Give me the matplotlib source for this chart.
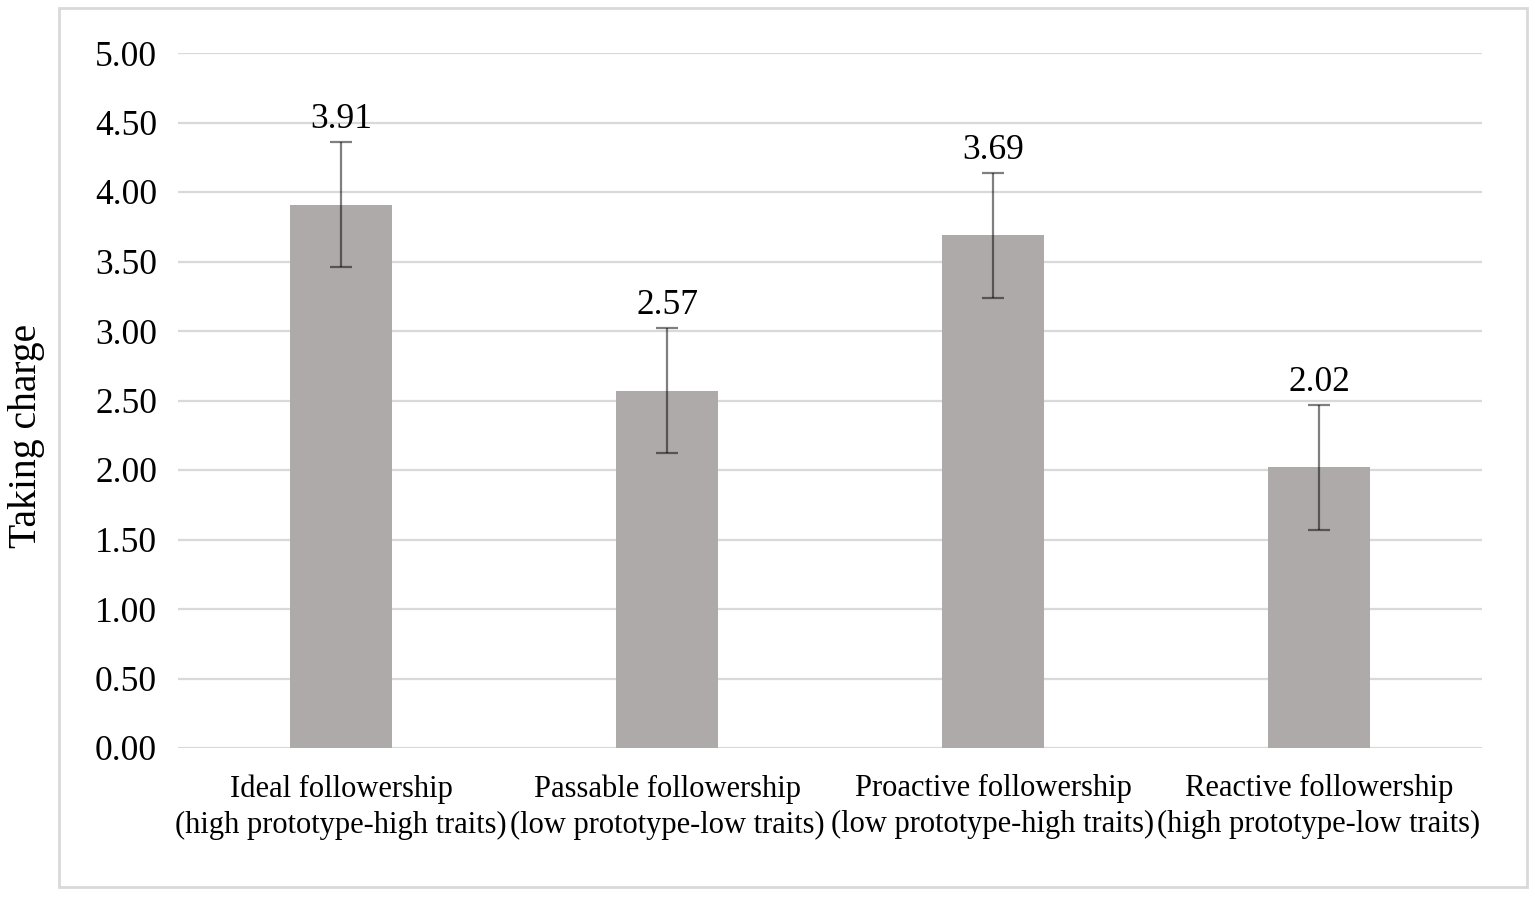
import numpy as np
import matplotlib
matplotlib.use('Agg')
import matplotlib.pyplot as plt
from matplotlib.patches import Rectangle

# THE DATA
categories = ['Ideal followership\n(high prototype-high traits)',
              'Passable followership\n(low prototype-low traits)',
              'Proactive followership\n(low prototype-high traits)',
              'Reactive followership\n(high prototype-low traits)']
means = [3.91, 2.57, 3.69, 2.02]
errors = [0.45, 0.45, 0.45, 0.45]
yticks = [0.0, 0.5, 1.0, 1.5, 2.0, 2.5, 3.0, 3.5, 4.0, 4.5, 5.0]

# THE CHART
plt.rcParams['font.family'] = ['Liberation Serif', 'DejaVu Serif']

fig = plt.figure(figsize=(15.35, 8.98), dpi=100, facecolor='w')
ax = fig.add_axes([178/1535, 150/898, 1304/1535, 695/898])

x = np.arange(len(categories))
ax.bar(x, means, width=0.31, color='#ADAAA9', zorder=2)
ax.errorbar(x, means, yerr=errors, fmt='none', ecolor=(0, 0, 0, 0.5),
            elinewidth=1.6, capsize=8, capthick=1.6, zorder=3)

# value labels above the error bars
for xi, m, e in zip(x, means, errors):
    ax.text(xi, m + e + 0.1, f'{m:.2f}', ha='center', va='baseline',
            fontsize=25.5, color='k')

ax.set_xlim(-0.5, len(categories) - 0.5)
ax.set_ylim(0, 5)
ax.set_yticks(yticks)
ax.set_yticklabels([f'{t:.2f}' for t in yticks], fontsize=25.5)
ax.set_xticks(x)
ax.set_xticklabels(categories, fontsize=22, linespacing=1.3)
ax.tick_params(axis='both', length=0)
ax.tick_params(axis='y', pad=15)
ax.tick_params(axis='x', pad=19)

ax.grid(axis='y', color='#D9D9D9', linewidth=1.6, zorder=0)
ax.set_axisbelow(True)
for s in ax.spines.values():
    s.set_visible(False)

fig.text(27/1535, 1 - 436/898, 'Taking charge', rotation=90, ha='center',
         va='center', fontsize=28.5)

# outer frame of the chart
fig.patches.append(Rectangle((59/1535, 11/898), 1468/1535, 879/898,
                             transform=fig.transFigure, fill=False,
                             edgecolor='#D9D9D9', linewidth=2))

fig.savefig('out.png', dpi=100)
